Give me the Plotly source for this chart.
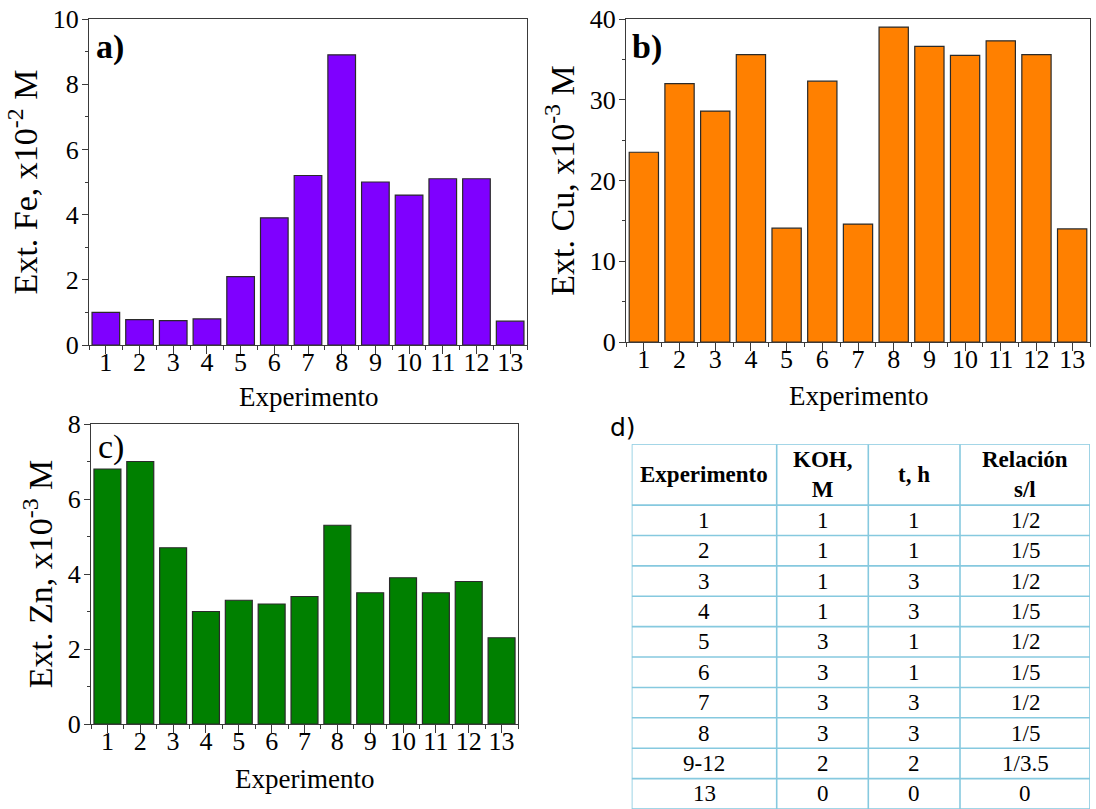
import plotly.graph_objects as go

# ---- data ----
experiments = list(range(1, 14))
fe_ext = [1.0, 0.78, 0.75, 0.8, 2.1, 3.9, 5.2, 8.9, 5.0, 4.6, 5.1, 5.1, 0.73]          # x10^-2 M
cu_ext = [23.5, 32.0, 28.6, 35.6, 14.1, 32.3, 14.6, 39.0, 36.6, 35.5, 37.3, 35.6, 14.0]  # x10^-3 M
zn_ext = [6.8, 7.0, 4.7, 3.0, 3.3, 3.2, 3.4, 5.3, 3.5, 3.9, 3.5, 3.8, 2.3]             # x10^-3 M

table_header = ["Experimento", "KOH,<br>M", "t, h", "Relación<br>s/l"]
table_exp = ["1", "2", "3", "4", "5", "6", "7", "8", "9-12", "13"]
table_koh = ["1", "1", "1", "1", "3", "3", "3", "3", "2", "0"]
table_t = ["1", "1", "3", "3", "1", "1", "3", "3", "2", "0"]
table_rel = ["1/2", "1/5", "1/2", "1/5", "1/2", "1/5", "1/2", "1/5", "1/3.5", "0"]

# ---- styling ----
W, H = 1096, 809
SERIF = "Liberation Serif"
AXIS_COLOR = "#3a3a3a"
TICK_FONT = dict(family=SERIF, size=26, color="black")
YTITLE_FONT = dict(family=SERIF, size=34, color="black")
XTITLE_FONT = dict(family=SERIF, size=27, color="black")
TABLE_LINE = "#86c9df"


def px_x(a, b):
    return [a / W, b / W]


def px_y(top, bottom):
    return [max(0.0, 1 - bottom / H), min(1.0, 1 - top / H)]


fig = go.Figure()

panels = [
    ("x", "y", fe_ext, "#7f00ff"),
    ("x2", "y2", cu_ext, "#ff8000"),
    ("x3", "y3", zn_ext, "#008000"),
]
for xa, ya, vals, col in panels:
    fig.add_trace(go.Bar(
        x=experiments, y=vals, xaxis=xa, yaxis=ya, width=0.82,
        marker=dict(color=col, line=dict(color="#2a2a2a", width=1.2)),
        showlegend=False, hoverinfo="x+y",
    ))


def xaxis_cfg(domain, anchor):
    return dict(
        domain=domain, anchor=anchor, range=[0.5, 13.5], automargin=False,
        tickmode="array", tickvals=experiments, ticktext=[str(e) for e in experiments],
        ticks="outside", ticklen=8, tickwidth=1, tickcolor=AXIS_COLOR,
        ticklabelstandoff=-14,
        minor=dict(tickmode="linear", tick0=0.5, dtick=1, ticks="outside",
                   ticklen=4, tickwidth=1, tickcolor=AXIS_COLOR),
        showline=True, linecolor=AXIS_COLOR, linewidth=1, mirror=True,
        showgrid=False, zeroline=False, tickfont=TICK_FONT,
        fixedrange=True,
    )


def yaxis_cfg(domain, anchor, rng, dtick, title):
    return dict(
        domain=domain, anchor=anchor, range=rng, dtick=dtick, tick0=0, automargin=False,
        ticks="outside", ticklen=6, tickwidth=1, tickcolor=AXIS_COLOR,
        ticklabelstandoff=-2,
        minor=dict(dtick=dtick / 2, ticks="outside", ticklen=3, tickwidth=1,
                   tickcolor=AXIS_COLOR),
        showline=True, linecolor=AXIS_COLOR, linewidth=1, mirror=True,
        showgrid=False, zeroline=False, tickfont=TICK_FONT,
        title=dict(text=title, font=YTITLE_FONT, standoff=4),
        fixedrange=True,
    )


dom_a = (px_x(89, 527), px_y(19, 345))
dom_b = (px_x(626, 1090), px_y(19, 342))
dom_c = (px_x(91, 518), px_y(424, 724))

layout = dict(
    width=W, height=H, margin=dict(l=0, r=0, t=0, b=0, autoexpand=False),
    paper_bgcolor="white", plot_bgcolor="white",
    bargap=0.18,
    xaxis=xaxis_cfg(dom_a[0], "y"),
    yaxis=yaxis_cfg(dom_a[1], "x", [0, 10], 2, "Ext. Fe, x10<sup>-2</sup> M"),
    xaxis2=xaxis_cfg(dom_b[0], "y2"),
    yaxis2=yaxis_cfg(dom_b[1], "x2", [0, 40], 10, "Ext. Cu, x10<sup>-3</sup> M"),
    xaxis3=xaxis_cfg(dom_c[0], "y3"),
    yaxis3=yaxis_cfg(dom_c[1], "x3", [0, 8], 2, "Ext. Zn, x10<sup>-3</sup> M"),
)

# ---- table panel (d) on a hidden axis pair ----
col_edges = [0, 145, 236.6, 328.3, 458.3]
tbl_top, tbl_left, tbl_right = 444.3, 631.7, 1090
n_units = 2 + len(table_exp)
layout["xaxis4"] = dict(domain=px_x(tbl_left, tbl_right), anchor="y4", automargin=False,
                        range=[col_edges[0], col_edges[-1]], visible=False, fixedrange=True)
layout["yaxis4"] = dict(domain=px_y(tbl_top, H), anchor="x4", automargin=False,
                        range=[n_units, 0], visible=False, fixedrange=True)

shapes = []
for xe in col_edges:
    shapes.append(dict(type="line", xref="x4", yref="y4", x0=xe, x1=xe, y0=0, y1=n_units,
                       line=dict(color=TABLE_LINE, width=1.6)))
for yl in [0] + list(range(2, n_units + 1)):
    shapes.append(dict(type="line", xref="x4", yref="y4", x0=col_edges[0], x1=col_edges[-1],
                       y0=yl, y1=yl, line=dict(color=TABLE_LINE, width=1.6)))
layout["shapes"] = shapes

annotations = []
centers = [(col_edges[i] + col_edges[i + 1]) / 2 for i in range(4)]
for cx, txt in zip(centers, table_header):
    annotations.append(dict(xref="x4", yref="y4", x=cx, y=1, text="<b>%s</b>" % txt,
                            showarrow=False, xanchor="center", yanchor="middle",
                            font=dict(family=SERIF, size=23, color="black")))
for r, row in enumerate(zip(table_exp, table_koh, table_t, table_rel)):
    for cx, txt in zip(centers, row):
        annotations.append(dict(xref="x4", yref="y4", x=cx, y=2.5 + r, text=txt,
                                showarrow=False, xanchor="center", yanchor="middle",
                                font=dict(family=SERIF, size=23, color="black")))

# x-axis titles, centred under each bar panel
for (dx, _), y_px in [(dom_a, 397), (dom_b, 396), (dom_c, 779)]:
    annotations.append(dict(xref="paper", yref="paper", x=(dx[0] + dx[1]) / 2, y=1 - y_px / H,
                            text="Experimento", showarrow=False, xanchor="center",
                            yanchor="middle", font=XTITLE_FONT))

# panel letters
annotations += [
    dict(xref="paper", yref="paper", x=94 / W, y=1 - 47 / H, text="<b>a)</b>", showarrow=False,
         xanchor="left", yanchor="middle", font=dict(family=SERIF, size=34, color="black")),
    dict(xref="paper", yref="paper", x=630 / W, y=1 - 47 / H, text="<b>b)</b>", showarrow=False,
         xanchor="left", yanchor="middle", font=dict(family=SERIF, size=34, color="black")),
    dict(xref="paper", yref="paper", x=96 / W, y=1 - 447 / H, text="c)", showarrow=False,
         xanchor="left", yanchor="middle", font=dict(family=SERIF, size=34, color="black")),
    dict(xref="paper", yref="paper", x=608 / W, y=1 - 427 / H, text="d)", showarrow=False,
         xanchor="left", yanchor="middle", font=dict(family="DejaVu Sans", size=25, color="black")),
]
layout["annotations"] = annotations

fig.update_layout(**layout)
fig.write_html("out.html")
